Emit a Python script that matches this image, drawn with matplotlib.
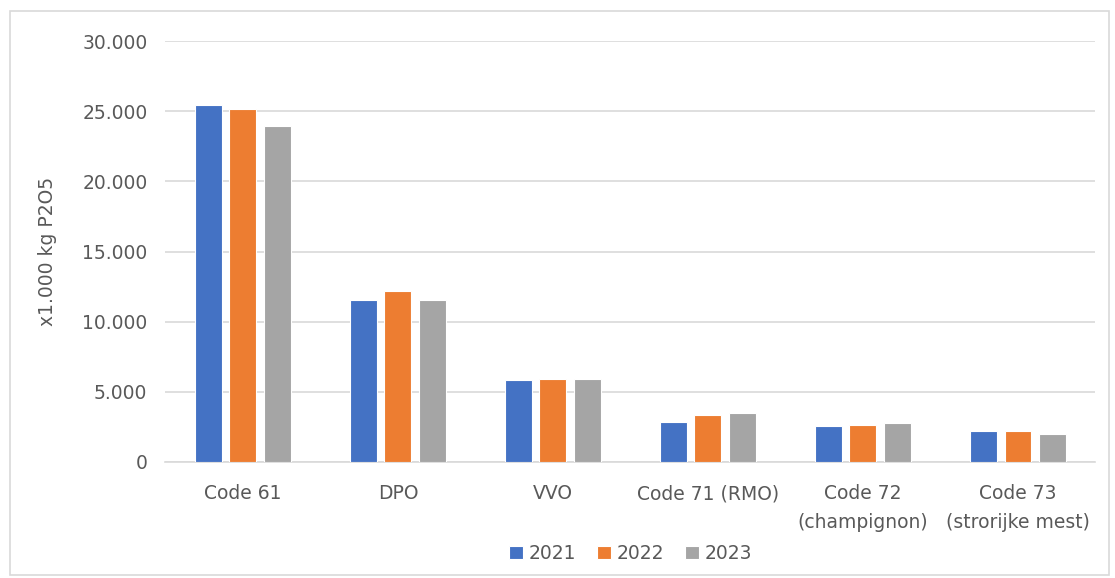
import numpy as np
import matplotlib
matplotlib.use('Agg')
import matplotlib.pyplot as plt
from matplotlib.ticker import FuncFormatter, MultipleLocator
from matplotlib.patches import Rectangle

categories = ['Code 61', 'DPO', 'VVO', 'Code 71 (RMO)',
              'Code 72\n(champignon)', 'Code 73\n(strorijke mest)']
years = ['2021', '2022', '2023']
v2021 = [25430, 11540, 5830, 2820, 2560, 2180]
v2022 = [25140, 12180, 5900, 3320, 2650, 2180]
v2023 = [23980, 11540, 5930, 3460, 2750, 2010]
colors = ['#4472C4', '#ED7D31', '#A5A5A5']

plt.rcParams['font.family'] = ['DejaVu Sans']
txt = '#595959'

fig = plt.figure(figsize=(11.15, 5.78), dpi=100)
ax = fig.add_axes([0.1484, 0.2007, 0.8341, 0.7283])

x = np.arange(len(categories))
w = 0.174
step = 0.223
for i, (vals, yr) in enumerate(zip([v2021, v2022, v2023], years)):
    ax.bar(x + (i - 1) * step, vals, width=w, color=colors[i], label=yr,
           edgecolor='white', linewidth=0.8, zorder=3)

ax.set_xlim(-0.5, len(categories) - 0.5)
ax.set_ylim(0, 30000)
ax.yaxis.set_major_locator(MultipleLocator(5000))
ax.yaxis.set_major_formatter(FuncFormatter(lambda v, p: f'{int(v):,}'.replace(',', '.')))
ax.grid(axis='y', color='#d9d9d9', linewidth=1.2, zorder=0)
for s in ['top', 'right', 'left']:
    ax.spines[s].set_visible(False)
ax.spines['bottom'].set_color('#d9d9d9')
ax.spines['bottom'].set_linewidth(1.2)
ax.tick_params(axis='both', length=0, labelsize=13.5, colors=txt)
ax.tick_params(axis='y', pad=13)
ax.tick_params(axis='x', pad=16)
ax.set_xticks(x)
ax.set_xticklabels(categories, linespacing=1.65)
ax.set_ylabel('x1.000 kg P2O5', fontsize=13.5, color=txt, labelpad=18)

ax.legend(loc='upper center', bbox_to_anchor=(0.5, -0.155), ncol=3, frameon=False,
          fontsize=13.5, labelcolor=txt, handlelength=0.75, handleheight=0.75,
          handletextpad=0.3, columnspacing=1.1)

fig.patches.append(Rectangle((0.009, 0.005), 0.986, 0.976, transform=fig.transFigure,
                             fill=False, edgecolor='#d9d9d9', linewidth=1.2))

fig.savefig('out.png', dpi=100)
